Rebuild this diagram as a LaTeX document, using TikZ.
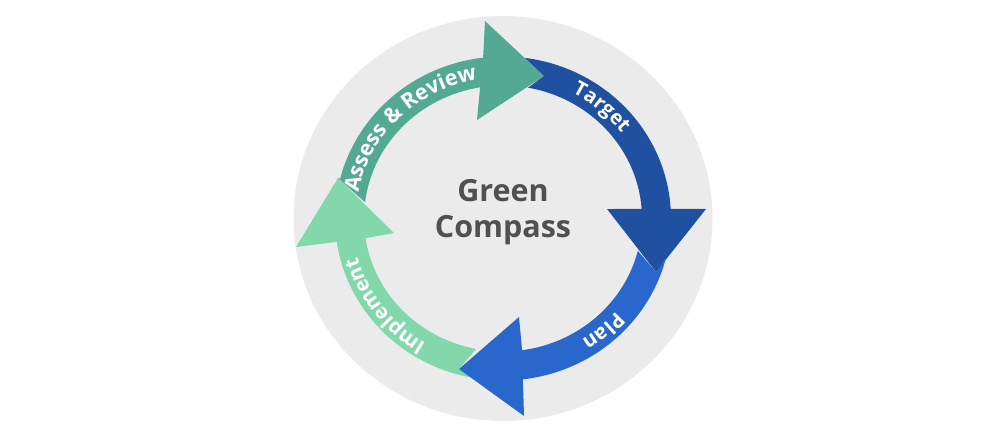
\documentclass[tikz,border=0pt]{standalone}
\usepackage{fontspec}
\setmainfont{Open Sans}
\usetikzlibrary{decorations.text,calc}
\definecolor{disc}{HTML}{EBEBEB}
\definecolor{teal}{HTML}{54A993}
\definecolor{navy}{HTML}{2050A0}
\definecolor{azure}{HTML}{2A67CC}
\definecolor{mint}{HTML}{82D8AB}
\definecolor{ink}{HTML}{505050}
\tikzset{
  title/.style={font=\fontsize{30.5}{36}\selectfont\bfseries,text=ink,align=center},
}
% #1 size, #2 text, #3 start angle, #4 end angle, #5 x radius, #6 y radius
\newcommand{\curvedlabel}[6]{%
  \path[decorate,decoration={text along path,text align=center,
    text={|\fontsize{#1}{#1}\selectfont\bfseries\color{white}|#2}}]
    (c)+(#3:#5pt and #6pt) arc[start angle=#3,end angle=#4,x radius=#5pt,y radius=#6pt];}
% #1 colour, #2/#3 outer arc angles, #4 head points, #5/#6 inner arc angles (reversed), #7 notch point
\newcommand{\bentarrow}[7]{%
  \fill[#1] (c)+(#2:168pt and 162pt) arc[start angle=#2,end angle=#3,x radius=168pt,y radius=162pt]
    #4 -- ($(c)+(#5:139pt and 133pt)$) arc[start angle=#5,end angle=#6,x radius=139pt,y radius=133pt]
    -- #7 -- cycle;}
\begin{document}
\begin{tikzpicture}[x=1pt,y=1pt]
\useasboundingbox (0,0) rectangle (1000,440);
\coordinate (c) at (503,221.5);
\fill[disc] (c) ellipse[x radius=209.5pt,y radius=202.5pt];
\coordinate (tipA) at (544,364);
\coordinate (tipT) at (656,168);
\coordinate (tipP) at (459,71);
\coordinate (tipI) at (338,262);
\bentarrow{mint}{-99.2}{-171.7}{-- (296,193) -- (tipI) -- (394,207)}{-171.5}{-101.2}{(tipP)}
\bentarrow{teal}{165.7}{96.8}{-- (485,419) -- (tipA) -- (477,320)}{99.5}{173}{(tipI)}
\bentarrow{navy}{82.5}{3.4}{-- (706,231) -- (tipT) -- (607,231)}{4.1}{79.6}{(tipA)}
\bentarrow{azure}{-14.1}{-83.2}{-- (524,24) -- (tipP) -- (519,123)}{-82.1}{-14.1}{(tipT)}
\curvedlabel{21.5}{Assess {\&} Review}{180}{90}{147}{141}
\curvedlabel{20}{Target}{89}{9}{148}{142}
\curvedlabel{20.5}{Plan}{-9}{-89}{149}{143}
\curvedlabel{20.5}{Implement}{-98}{-188}{151}{145}
\node[title] (t) at (503,228) {Green\\Compass};
\end{tikzpicture}
\end{document}
